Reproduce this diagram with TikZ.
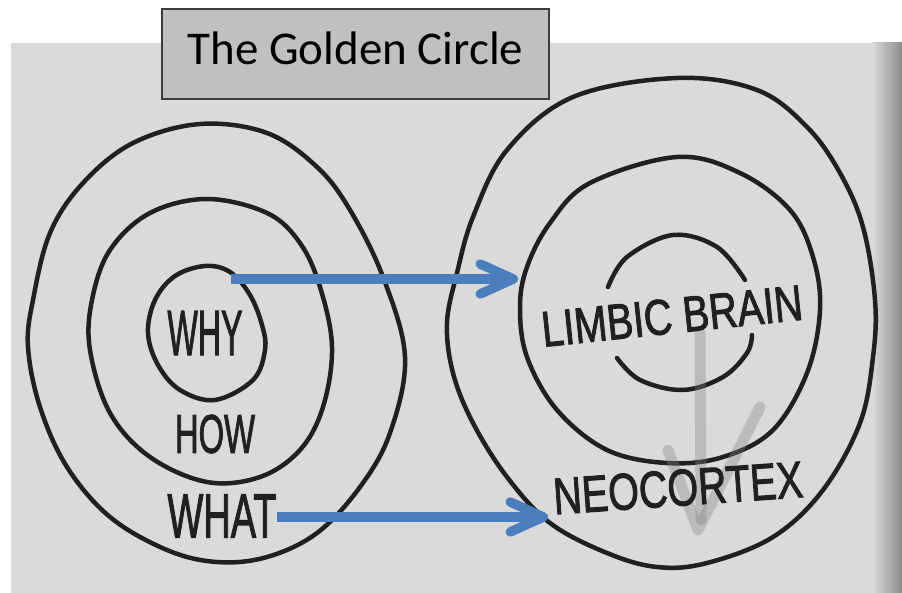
\documentclass[tikz,border=0pt]{standalone}
\usepackage{fontspec}
\setmainfont{Carlito}
\newfontfamily\handfont[FakeBold=2]{Liberation Sans}
\usepackage{graphicx}
\usetikzlibrary{arrows.meta, positioning}
\definecolor{cPaper}{RGB}{218,218,216}
\definecolor{cShade}{RGB}{140,140,138}
\definecolor{cInk}{RGB}{32,32,32}
\definecolor{cArrow}{RGB}{74,126,191}
\definecolor{cBox}{RGB}{192,192,192}
\definecolor{cBoxLine}{RGB}{60,60,60}
\definecolor{cPencil}{RGB}{130,130,128}

\tikzset{
  ring/.style={draw=cInk, line width=4.5pt, line join=round, line cap=round},
  hand/.style={text=cInk, font=\handfont, inner sep=0pt},
  pencil/.style={draw=cPencil, line width=11pt, line cap=round, line join=round, opacity=0.35},
  bluearrow/.style={draw=cArrow, line width=9.5pt, -{Straight Barb[length=33pt, width=30pt, round]}},
  titlebox/.style={draw=cBoxLine, fill=cBox, line width=1.5pt, inner sep=0pt,
    minimum width=387pt, minimum height=90pt, text height=30pt, text depth=8pt,
    font=\fontsize{47}{50}\selectfont}
}

\begin{document}
\begin{tikzpicture}[x=1pt, y=-1pt]

    \useasboundingbox (0,0) rectangle (902,593);

    % --- Paper ---
    \fill[white] (0,0) rectangle (902,593);
    \fill[cPaper] (11,43) rectangle (902,593);
    \shade[left color=cPaper, right color=cShade] (872,43) rectangle (902,593);

    % --- Left circles (why / how / what) ---
    \draw[ring] plot[smooth cycle, tension=0.6] coordinates {
        (200,124) (267,133) (317,167) (350,210) (383,277) (405,357)
        (390,433) (360,487) (317,533) (267,557) (217,562) (167,550)
        (110,517) (67,467) (40,407) (28,347) (33,300) (50,233) (83,183) (133,143)};
    \draw[ring] plot[smooth cycle, tension=0.6] coordinates {
        (207,199) (267,213) (300,243) (320,287) (332,347) (323,407)
        (300,450) (260,477) (207,482) (150,457) (110,413) (90,350)
        (92,300) (110,250) (150,213)};
    \draw[ring] plot[smooth cycle, tension=0.6] coordinates {
        (205,266) (230,272) (250,295) (262,325) (265,350) (253,380)
        (215,400) (180,390) (158,365) (148,333) (155,300) (175,276)};

    % --- Right circles (brain) ---
    \draw[ring] plot[smooth cycle, tension=0.6] coordinates {
        (677,78) (757,90) (807,127) (840,173) (863,227) (875,300)
        (873,357) (860,423) (823,490) (773,537) (707,563) (657,567)
        (607,553) (550,523) (507,477) (473,423) (453,373) (447,323)
        (457,273) (473,217) (507,150) (573,97)};
    \draw[ring] plot[smooth cycle, tension=0.6] coordinates {
        (677,157) (740,173) (790,210) (813,257) (820,310) (807,373)
        (773,430) (723,457) (667,463) (607,450) (557,410) (527,357)
        (520,307) (527,267) (550,223) (590,183)};
    \draw[ring] plot[smooth, tension=0.6] coordinates {
        (608,287) (627,257) (673,235) (717,247) (745,280)};
    \draw[ring] plot[smooth, tension=0.6] coordinates {
        (617,358) (640,380) (683,390) (723,377) (747,353) (752,335)};

    % --- Pencil marks ---
    \draw[pencil] (700,332) -- (701,520);
    \draw[pencil] (668,450) -- (698,530) -- (760,407);

    % --- Labels ---
    \node[hand] (why) at (205,333) {\resizebox{75pt}{44pt}{WHY}};
    \node[hand] (how) at (215,434) {\resizebox{80pt}{38pt}{HOW}};
    \node[hand] (what) at (222,516) {\resizebox{109pt}{43pt}{WHAT}};
    \node[hand, rotate=6] (limbic) at (672,316) {\resizebox{262pt}{35pt}{LIMBIC BRAIN}};
    \node[hand, rotate=4] (neo) at (678,488) {\resizebox{250pt}{36pt}{NEOCORTEX}};

    % --- Title ---
    \node[titlebox] (title) at (355.5,54) {The Golden Circle};

    % --- Arrows ---
    \coordinate (whyTop) at (231,279);
    \coordinate (limbicEdge) at (518,279);
    \coordinate (whatEnd) at (what.east |- 0,517);
    \coordinate (neoEdge) at (548,517);
    \draw[bluearrow] (whyTop) -- (limbicEdge);
    \draw[bluearrow] (whatEnd) -- (neoEdge);

\end{tikzpicture}
\end{document}
